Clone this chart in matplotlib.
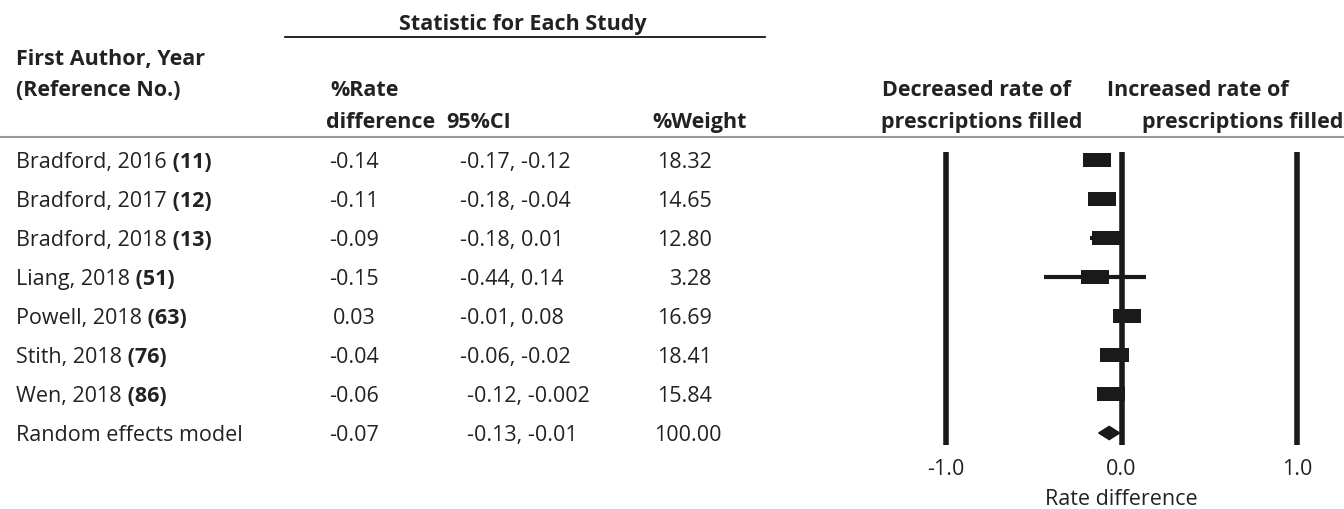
import matplotlib.pyplot as plt
import numpy as np

plt.rcParams['font.family'] = ['Open Sans', 'DejaVu Sans']

studies = ["Bradford, 2016", "Bradford, 2017", "Bradford, 2018", "Liang, 2018",
           "Powell, 2018", "Stith, 2018", "Wen, 2018"]
refs = ["11", "12", "13", "51", "63", "76", "86"]
rate_diff = [-0.14, -0.11, -0.09, -0.15, 0.03, -0.04, -0.06]
ci_low = [-0.17, -0.18, -0.18, -0.44, -0.01, -0.06, -0.12]
ci_high = [-0.12, -0.04, 0.01, 0.14, 0.08, -0.02, -0.002]
weights = [18.32, 14.65, 12.80, 3.28, 16.69, 18.41, 15.84]

pooled_label = "Random effects model"
pooled_rd = -0.07
pooled_low = -0.13
pooled_high = -0.01
pooled_weight = 100.00

xticks = [-1.0, 0.0, 1.0]

W, H = 1344, 509
fig = plt.figure(figsize=(W / 100, H / 100), dpi=100)

# row i sits at pixel 160 + 39*i
row0, step = 160.0, 39.0
ylim = ((H - row0) / step, (0 - row0) / step)

def py(p):
    return (p - row0) / step

# table part, x in pixels
ax = fig.add_axes([0, 0, 1, 1])
ax.set_xlim(0, W)
ax.set_ylim(*ylim)
ax.axis('off')

fs = 15.5
col = '#222222'
va = 'center_baseline'
hdr = dict(va=va, fontsize=fs, fontweight='bold', color=col)
ax.text(523, py(22), "Statistic for Each Study", ha='center', **hdr)
ax.plot([285, 765], [py(37), py(37)], color='black', lw=1.2)
ax.text(16, py(57), "First Author, Year", ha='left', **hdr)
ax.text(16, py(88), "(Reference No.)", ha='left', **hdr)
ax.text(330, py(88), "%Rate", ha='left', **hdr)
ax.text(326, py(120), "difference", ha='left', **hdr)
ax.text(446, py(120), "95%CI", ha='left', **hdr)
ax.text(652, py(120), "%Weight", ha='left', **hdr)
ax.text(976, py(88), "Decreased rate of", ha='center', **hdr)
ax.text(982, py(120), "prescriptions filled", ha='center', **hdr)
ax.text(1198, py(88), "Increased rate of", ha='center', **hdr)
ax.text(1343, py(120), "prescriptions filled", ha='right', **hdr)
ax.plot([0, W], [py(137), py(137)], color='#999999', lw=1.5)

labels = studies + [pooled_label]
all_rd = rate_diff + [pooled_rd]
all_lo = ci_low + [pooled_low]
all_hi = ci_high + [pooled_high]
all_w = weights + [pooled_weight]
for i in range(len(labels)):
    t = ax.text(16, i, labels[i], ha='left', va=va, fontsize=fs, color=col)
    if i < len(refs):
        ax.annotate(" (" + refs[i] + ")", xy=(1, 0), xycoords=t, ha='left', va='bottom',
                    fontsize=fs, fontweight='bold', color=col)
    ax.text(354, i, f"{all_rd[i]:.2f}", ha='center', va=va, fontsize=fs, color=col)
    cx = 467 if i >= 6 else 460
    ax.text(cx, i, f"{all_lo[i]:g}, {all_hi[i]:g}", ha='left', va=va, fontsize=fs, color=col)
    ax.text(712 if i < 7 else 722, i, f"{all_w[i]:.2f}", ha='right', va=va, fontsize=fs, color=col)

# forest plot part: -1 at px 946, 1 at px 1297
x0, x1 = 900, W
scale = (1297 - 946) / 2.0
fa = fig.add_axes([x0 / W, 0, (x1 - x0) / W, 1])
fa.set_xlim(-1 - (946 - x0) / scale, 1 + (x1 - 1297) / scale)
fa.set_ylim(*ylim)
fa.axis('off')

fa.vlines(xticks, py(152), py(445), color='#1a1a1a', lw=4)
n = len(studies)
yy = np.arange(n)
fa.hlines(yy, ci_low, ci_high, color='#1a1a1a', lw=3)
bw = 0.16
fa.barh(yy, [bw] * n, left=np.array(rate_diff) - bw / 2, height=0.36, color='#1a1a1a')
fa.fill([pooled_low, pooled_rd, pooled_high, pooled_rd],
        [n, n - 0.17, n, n + 0.17], color='#1a1a1a')

for v in xticks:
    fa.text(v, py(467), f"{v:.1f}", ha='center', va=va, fontsize=fs, color=col)
fa.text(0, py(497), "Rate difference", ha='center', va=va, fontsize=fs, color=col)

fig.savefig("out.png", dpi=100)
